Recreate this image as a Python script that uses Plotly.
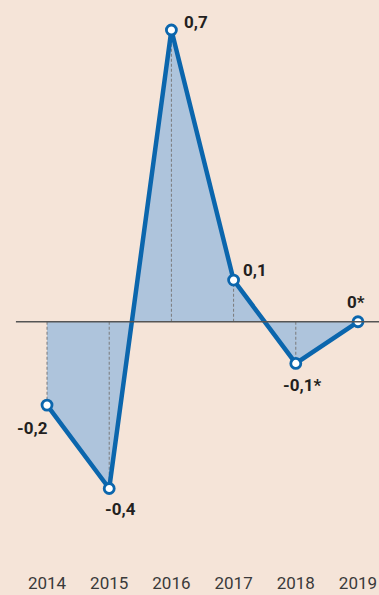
import plotly.graph_objects as go

years = [2014, 2015, 2016, 2017, 2018, 2019]
values = [-0.2, -0.4, 0.7, 0.1, -0.1, 0.0]
labels = ["-0,2", "-0,4", "0,7", "0,1", "-0,1*", "0*"]
tick_text = ["2014", "2015", "2016", "2017", "2018", "2019"]

BG = "#f5e4d8"
BLUE = "#0b66ad"
FILL = "#aec4dc"
INK = "#231f20"
FONT = "Liberation Sans Narrow, Roboto, sans-serif"

# label offsets in px (dx, dy) relative to each point
offsets = [(-15, -23), (11, -21), (25, 8), (21, 10), (6, -22), (-2, 20)]

fig = go.Figure()

# area between line and zero
fig.add_trace(go.Scatter(x=years, y=values, mode="none", fill="tozeroy",
                         fillcolor=FILL, hoverinfo="skip", showlegend=False))

# dashed droplines to zero
dx, dy = [], []
for x, v in zip(years, values):
    if v != 0:
        dx += [x, x, None]; dy += [0, v, None]
fig.add_trace(go.Scatter(x=dx, y=dy, mode="lines", hoverinfo="skip", showlegend=False,
                         line=dict(color="#7a7a7a", width=1, dash="3px,2px")))

fig.add_shape(type="line", x0=2013.5, x1=2019.5, y0=0, y1=0, xref="x", yref="y",
              line=dict(color="#555555", width=1.3), layer="above")

fig.add_trace(go.Scatter(x=years, y=values, mode="lines+markers", showlegend=False,
                         line=dict(color=BLUE, width=4.5),
                         marker=dict(size=10, color="white", line=dict(color=BLUE, width=2.8))))

for x, v, t, (ox, oy) in zip(years, values, labels, offsets):
    fig.add_annotation(x=x, y=v, text="<b>" + t + "</b>", showarrow=False,
                       xshift=ox, yshift=oy,
                       font=dict(family=FONT, size=17, color=INK))

fig.update_layout(
    width=379, height=595,
    paper_bgcolor=BG, plot_bgcolor=BG,
    margin=dict(l=0, r=0, t=0, b=24),
    xaxis=dict(range=[2013.244, 2019.338], showgrid=False, zeroline=False, showline=False,
               tickvals=years, ticktext=tick_text, ticks="",
               tickfont=dict(family=FONT, size=17, color="#3a3a3a")),
    yaxis=dict(range=[-0.598, 0.772], showgrid=False, zeroline=False, showline=False,
               showticklabels=False),
)

fig.write_html("out.html", config={"displayModeBar": False},
               post_script="document.body.style.margin='0';")
